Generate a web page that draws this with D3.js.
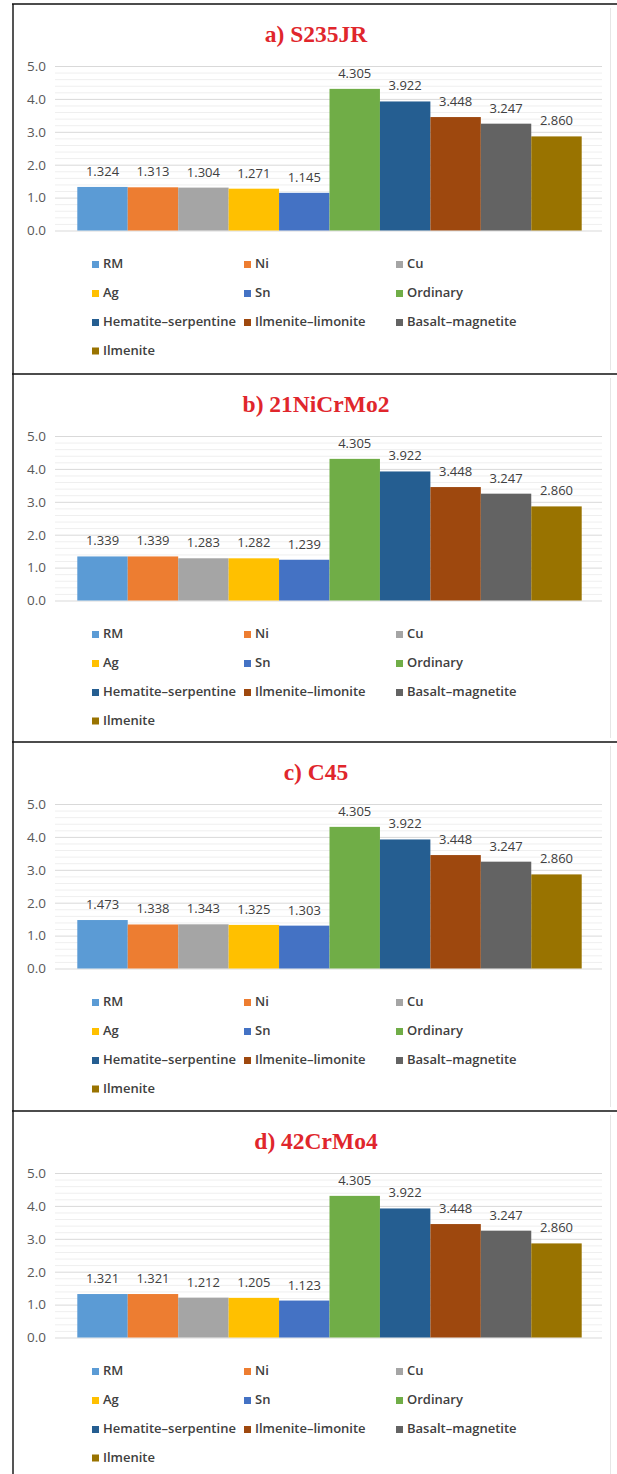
<!DOCTYPE html>
<html>
<head>
<meta charset="utf-8">
<script src="https://cdn.jsdelivr.net/npm/d3@7/dist/d3.min.js"></script>
<style>
  html, body { margin: 0; padding: 0; background: #fff; }
  svg { display: block; }
</style>
</head>
<body>
<svg id="chart" width="617" height="1474"></svg>
<script>
// Shielding materials shown in every panel (one bar each)
const materials = ["RM", "Ni", "Cu", "Ag", "Sn", "Ordinary", "Hematite–serpentine",
                   "Ilmenite–limonite", "Basalt–magnetite", "Ilmenite"];
const materialColors = ["#5B9BD5", "#ED7D31", "#A5A5A5", "#FFC000", "#4472C4", "#70AD47",
                        "#255E91", "#9E480E", "#636363", "#997300"];

// Panel titles (steel grades)
const panelTitles = ["a) S235JR", "b) 21NiCrMo2", "c) C45", "d) 42CrMo4"];

// Values per panel, in the order of `materials`
const valuesS235JR    = [1.324, 1.313, 1.304, 1.271, 1.145, 4.305, 3.922, 3.448, 3.247, 2.860];
const values21NiCrMo2 = [1.339, 1.339, 1.283, 1.282, 1.239, 4.305, 3.922, 3.448, 3.247, 2.860];
const valuesC45       = [1.473, 1.338, 1.343, 1.325, 1.303, 4.305, 3.922, 3.448, 3.247, 2.860];
const values42CrMo4   = [1.321, 1.321, 1.212, 1.205, 1.123, 4.305, 3.922, 3.448, 3.247, 2.860];
const panelValues = [valuesS235JR, values21NiCrMo2, valuesC45, values42CrMo4];

// Axis ticks
const yTicks = [0, 1, 2, 3, 4, 5];
const yMinorTicks = d3.range(0, 25).map(i => i * 0.2).filter(v => Math.abs(v - Math.round(v)) > 1e-6);

// Layout
const W = 617;
const panelTops = [4, 374, 742, 1111, 1480];
const leftEdge = 13;
const plotLeft = 55, plotRight = 602;
const barLeft = 77.3, barRight = 581.7;
const plotTop = 62, plotZero = 226.5;
const legendRows = [261, 290, 319, 347.5];
const legendCols = [92, 244, 396];

const svg = d3.select("#chart");

const x = d3.scaleBand().domain(materials).range([barLeft, barRight]).padding(0);
const y = d3.scaleLinear().domain([0, 5]).range([plotZero, plotTop]);
const color = d3.scaleOrdinal().domain(materials).range(materialColors);

panelTitles.forEach((title, p) => {
  const g = svg.append("g").attr("transform", `translate(0,${panelTops[p]})`);
  const vals = panelValues[p];

  // minor gridlines
  g.append("g").selectAll("line").data(yMinorTicks).join("line")
    .attr("x1", plotLeft).attr("x2", plotRight)
    .attr("y1", d => y(d) + 0.5).attr("y2", d => y(d) + 0.5)
    .attr("stroke", "#efefef").attr("stroke-width", 1);

  // major gridlines
  g.append("g").selectAll("line").data(yTicks).join("line")
    .attr("x1", plotLeft).attr("x2", plotRight)
    .attr("y1", d => y(d) + 0.5).attr("y2", d => y(d) + 0.5)
    .attr("stroke", "#d9d9d9").attr("stroke-width", 1);

  // y axis labels
  const axis = g.append("g").attr("transform", `translate(${plotLeft},0)`)
    .call(d3.axisLeft(y).tickValues(yTicks).tickFormat(d3.format(".1f")).tickSize(0).tickPadding(9));
  axis.select(".domain").remove();
  axis.selectAll("text")
    .attr("font-family", "'Open Sans', sans-serif")
    .attr("font-size", 13.5)
    .attr("fill", "#595959");

  // bars
  g.append("g").selectAll("rect").data(materials).join("rect")
    .attr("x", d => x(d))
    .attr("width", x.bandwidth())
    .attr("y", (d, i) => y(vals[i]))
    .attr("height", (d, i) => y(0) - y(vals[i]))
    .attr("fill", d => color(d));

  // value labels
  g.append("g").selectAll("text").data(materials).join("text")
    .attr("x", d => x(d) + x.bandwidth() / 2)
    .attr("y", (d, i) => y(vals[i]) - 11)
    .attr("text-anchor", "middle")
    .attr("font-family", "'Open Sans', sans-serif")
    .attr("font-size", 13)
    .attr("fill", "#404040")
    .text((d, i) => d3.format(".3f")(vals[i]));

  // title
  g.append("text")
    .attr("x", 316).attr("y", 38)
    .attr("text-anchor", "middle")
    .attr("font-family", "'Liberation Serif', 'Times New Roman', serif")
    .attr("font-weight", "bold")
    .attr("font-size", 23.5)
    .attr("fill", "#E0262C")
    .text(title);

  // legend
  const leg = g.append("g").selectAll("g").data(materials).join("g")
    .attr("transform", (d, i) => `translate(${legendCols[i % 3]},${legendRows[Math.floor(i / 3)]})`);
  leg.append("rect")
    .attr("x", 0).attr("y", -4).attr("width", 7).attr("height", 7)
    .attr("fill", d => color(d));
  leg.append("text")
    .attr("x", 11).attr("y", 0)
    .attr("dominant-baseline", "middle")
    .attr("font-family", "'Open Sans', sans-serif")
    .attr("font-size", 13)
    .attr("font-weight", 600)
    .attr("fill", "#404040")
    .text(d => d);

  // faint chart-area edge on the right
  g.append("line")
    .attr("x1", 610.5).attr("x2", 610.5).attr("y1", 4).attr("y2", panelTops[p + 1] - panelTops[p] - 4)
    .attr("stroke", "#e6e6e6");
});

// panel frames
svg.append("line").attr("x1", leftEdge).attr("x2", leftEdge).attr("y1", panelTops[0]).attr("y2", 1474)
  .attr("stroke", "#555").attr("stroke-width", 2);
panelTops.slice(0, 4).forEach(t => {
  svg.append("line").attr("x1", leftEdge - 1).attr("x2", W).attr("y1", t).attr("y2", t)
    .attr("stroke", "#111").attr("stroke-width", 1.5);
});
</script>
</body>
</html>
